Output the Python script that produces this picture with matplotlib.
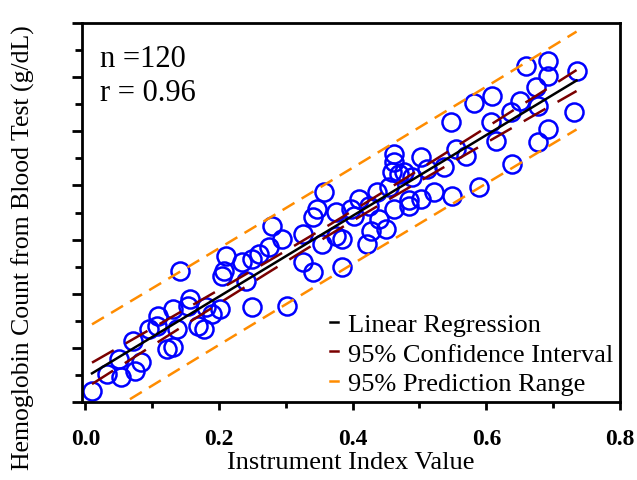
import numpy as np
import matplotlib
matplotlib.use('Agg')
import matplotlib.pyplot as plt
from matplotlib.ticker import MultipleLocator

plt.rcParams['font.family'] = ['Liberation Serif', 'DejaVu Serif']
plt.rcParams['lines.scale_dashes'] = False

# instrument index value (x) and blood-test hemoglobin (y)
index_val = [0.010, 0.032, 0.054, 0.051, 0.074, 0.084, 0.071, 0.096, 0.107, 0.108,
             0.122, 0.131, 0.137, 0.131, 0.141, 0.156, 0.153, 0.168, 0.178, 0.181,
             0.189, 0.201, 0.205, 0.208, 0.211, 0.235, 0.249, 0.260, 0.241, 0.249,
             0.302, 0.295, 0.275, 0.325, 0.340, 0.325, 0.384, 0.354, 0.375,
             0.280, 0.340, 0.346, 0.357, 0.375, 0.384, 0.398, 0.410, 0.425, 0.437,
             0.459, 0.469, 0.454, 0.462, 0.440, 0.428, 0.450, 0.422, 0.484, 0.402,
             0.462, 0.462, 0.477, 0.489, 0.502, 0.511, 0.537, 0.555, 0.569, 0.547,
             0.581, 0.607, 0.614, 0.608, 0.637, 0.651, 0.659, 0.674, 0.678, 0.693,
             0.693, 0.735, 0.731, 0.693, 0.678, 0.638, 0.589, 0.549, 0.522, 0.502,
             0.484]
hemoglobin = [4.41, 5.03, 4.92, 5.59, 5.15, 5.48, 6.25, 6.70, 6.81, 7.18,
              5.96, 6.03, 6.70, 7.44, 8.84, 7.80, 7.55, 6.81, 6.70, 7.51,
              7.25, 7.44, 8.65, 8.84, 9.39, 9.17, 9.28, 9.47, 8.47, 7.51,
              7.55, 10.02, 9.73, 9.17, 8.80, 10.21, 8.99, 9.84, 10.13,
              10.50, 10.83, 11.13, 11.76, 11.02, 10.02, 11.13, 11.50, 11.24, 11.76,
              12.50, 12.42, 11.94, 11.13, 10.76, 10.32, 10.39, 9.84, 11.24, 10.87,
              13.16, 12.87, 12.50, 12.31, 13.05, 12.61, 12.68, 13.35, 13.09, 14.34,
              15.05, 14.34, 13.64, 15.30, 14.71, 15.12, 16.41, 15.64, 14.93, 16.60,
              16.04, 16.23, 14.71, 14.08, 13.60, 12.79, 11.94, 11.61, 11.76, 11.50,
              11.46]

x = np.array(index_val)
y = np.array(hemoglobin)

# linear fit with 95% confidence and prediction bands
n = len(x)
slope, icpt = np.polyfit(x, y, 1)
resid = y - (slope * x + icpt)
s = np.sqrt(np.sum(resid**2) / (n - 2))
sxx = np.sum((x - x.mean())**2)
t = 1.98
xf = np.linspace(x.min(), x.max(), 200)
yf = slope * xf + icpt
ci = t * s * np.sqrt(1.0/n + (xf - x.mean())**2 / sxx)
pi = t * s * np.sqrt(1 + 1.0/n + (xf - x.mean())**2 / sxx)

fig = plt.figure(figsize=(6.37, 4.81), dpi=100)
ax = fig.add_axes([0.1287, 0.1622, 0.8446, 0.7878])

ax.plot(x, y, 'o', ms=13, mfc='none', mec='#0000FF', mew=1.8, zorder=2)

red = '#7A0000'
orange = '#FF8C00'
ax.plot(xf, yf, c='black', lw=1.8, zorder=3)
ax.plot(xf, yf + ci, c=red, lw=1.8, dashes=(18, 10), zorder=3)
ax.plot(xf, yf - ci, c=red, lw=1.8, dashes=(18, 10), zorder=3)
ax.plot(xf, yf + pi, c=orange, lw=1.8, dashes=(10, 6), zorder=3)
ax.plot(xf, yf - pi, c=orange, lw=1.8, dashes=(10, 6), zorder=3)

h1 = plt.Line2D([], [], c='black', lw=1.8)
h2 = plt.Line2D([], [], c=red, lw=1.8)
h3 = plt.Line2D([], [], c=orange, lw=1.8)
ax.legend([h1, h2, h3], ['Linear Regression', '95% Confidence Interval', '95% Prediction Range'],
          loc='lower right', bbox_to_anchor=(1.0, 0.0), frameon=False, fontsize=19,
          handlelength=0.3, handletextpad=0.38, labelspacing=0.24, borderaxespad=0.05,
          borderpad=0.2)

ax.text(0.033, 0.887, 'n =120', transform=ax.transAxes, fontsize=22)
ax.text(0.033, 0.797, 'r = 0.96', transform=ax.transAxes, fontsize=22)

ax.set_xlim(-0.005, 0.8)
ax.set_ylim(4, 18)
ax.xaxis.set_major_locator(MultipleLocator(0.2))
ax.xaxis.set_minor_locator(MultipleLocator(0.1))
ax.yaxis.set_major_locator(MultipleLocator(2))
ax.yaxis.set_minor_locator(MultipleLocator(1))
ax.tick_params(axis='x', which='major', direction='out', length=6, width=2, pad=13, labelsize=17)
ax.tick_params(axis='x', which='minor', direction='out', length=4, width=2)
ax.tick_params(axis='y', which='major', direction='out', length=7, width=2, labelleft=False)
ax.tick_params(axis='y', which='minor', direction='out', length=5, width=2)
for lab in ax.get_xticklabels():
    lab.set_fontweight('bold')
for sp in ax.spines.values():
    sp.set_linewidth(2)

ax.set_xlabel('Instrument Index Value', fontsize=19, labelpad=1)
ax.set_ylabel('Hemoglobin Count from Blood Test (g/dL)', fontsize=18.5)
ax.yaxis.set_label_coords(-0.088, 0.41)

fig.savefig('out.png', dpi=100)
